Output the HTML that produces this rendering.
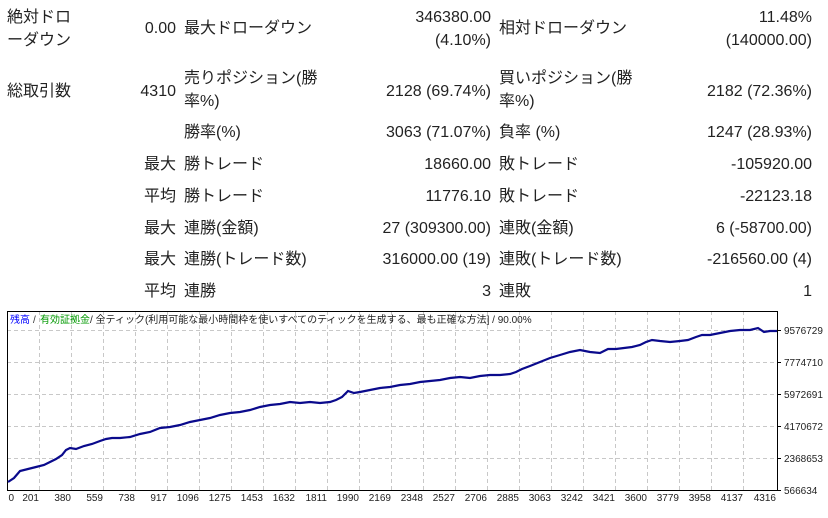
<!DOCTYPE html>
<html><head><meta charset="utf-8"><style>
body{margin:0;width:828px;height:518px;background:#fff;position:relative;overflow:hidden;font-family:"Liberation Sans","Noto Sans CJK JP",sans-serif;font-size:16px;color:#222}
.t{position:absolute;white-space:nowrap;line-height:23px}
.r{text-align:right}
</style></head><body>
<div class="t" style="left:7px;top:6px">絶対ドロ<br>ーダウン</div>
<div class="t r" style="right:652px;top:17px">0.00</div>
<div class="t" style="left:184px;top:17px">最大ドローダウン</div>
<div class="t r" style="right:337px;top:6px">346380.00<br>(4.10%)</div>
<div class="t" style="left:499px;top:17px">相対ドローダウン</div>
<div class="t r" style="right:16px;top:6px">11.48%<br>(140000.00)</div>

<div class="t" style="left:7px;top:80px">総取引数</div>
<div class="t r" style="right:652px;top:80px">4310</div>
<div class="t" style="left:184px;top:67px">売りポジション(勝<br>率%)</div>
<div class="t r" style="right:337px;top:80px">2128 (69.74%)</div>
<div class="t" style="left:499px;top:67px">買いポジション(勝<br>率%)</div>
<div class="t r" style="right:16px;top:80px">2182 (72.36%)</div>

<div class="t" style="left:184px;top:121px">勝率(%)</div>
<div class="t r" style="right:337px;top:121px">3063 (71.07%)</div>
<div class="t" style="left:499px;top:121px">負率 (%)</div>
<div class="t r" style="right:16px;top:121px">1247 (28.93%)</div>

<div class="t r" style="right:652px;top:153px">最大</div>
<div class="t" style="left:184px;top:153px">勝トレード</div>
<div class="t r" style="right:337px;top:153px">18660.00</div>
<div class="t" style="left:499px;top:153px">敗トレード</div>
<div class="t r" style="right:16px;top:153px">-105920.00</div>

<div class="t r" style="right:652px;top:185px">平均</div>
<div class="t" style="left:184px;top:185px">勝トレード</div>
<div class="t r" style="right:337px;top:185px">11776.10</div>
<div class="t" style="left:499px;top:185px">敗トレード</div>
<div class="t r" style="right:16px;top:185px">-22123.18</div>

<div class="t r" style="right:652px;top:217px">最大</div>
<div class="t" style="left:184px;top:217px">連勝(金額)</div>
<div class="t r" style="right:337px;top:217px">27 (309300.00)</div>
<div class="t" style="left:499px;top:217px">連敗(金額)</div>
<div class="t r" style="right:16px;top:217px">6 (-58700.00)</div>

<div class="t r" style="right:652px;top:248px">最大</div>
<div class="t" style="left:184px;top:248px">連勝(トレード数)</div>
<div class="t r" style="right:337px;top:248px">316000.00 (19)</div>
<div class="t" style="left:499px;top:248px">連敗(トレード数)</div>
<div class="t r" style="right:16px;top:248px">-216560.00 (4)</div>

<div class="t r" style="right:652px;top:280px">平均</div>
<div class="t" style="left:184px;top:280px">連勝</div>
<div class="t r" style="right:337px;top:280px">3</div>
<div class="t" style="left:499px;top:280px">連敗</div>
<div class="t r" style="right:16px;top:280px">1</div>

<svg style="position:absolute;left:0;top:0" width="828" height="518" font-family="Liberation Sans, Noto Sans CJK JP, sans-serif">
<g stroke="#c8c8c8" stroke-dasharray="4,3" stroke-width="1">
<line x1="7" x2="777" y1="330.5" y2="330.5"/><line x1="7" x2="777" y1="362.5" y2="362.5"/><line x1="7" x2="777" y1="394.5" y2="394.5"/><line x1="7" x2="777" y1="426.5" y2="426.5"/><line x1="7" x2="777" y1="458.5" y2="458.5"/>
<line x1="39.5" x2="39.5" y1="311" y2="490"/><line x1="71.5" x2="71.5" y1="311" y2="490"/><line x1="103.5" x2="103.5" y1="311" y2="490"/><line x1="135.5" x2="135.5" y1="311" y2="490"/><line x1="167.5" x2="167.5" y1="311" y2="490"/><line x1="199.5" x2="199.5" y1="311" y2="490"/><line x1="231.5" x2="231.5" y1="311" y2="490"/><line x1="263.5" x2="263.5" y1="311" y2="490"/><line x1="295.5" x2="295.5" y1="311" y2="490"/><line x1="327.5" x2="327.5" y1="311" y2="490"/><line x1="359.5" x2="359.5" y1="311" y2="490"/><line x1="391.5" x2="391.5" y1="311" y2="490"/><line x1="423.5" x2="423.5" y1="311" y2="490"/><line x1="455.5" x2="455.5" y1="311" y2="490"/><line x1="487.5" x2="487.5" y1="311" y2="490"/><line x1="519.5" x2="519.5" y1="311" y2="490"/><line x1="551.5" x2="551.5" y1="311" y2="490"/><line x1="583.5" x2="583.5" y1="311" y2="490"/><line x1="615.5" x2="615.5" y1="311" y2="490"/><line x1="647.5" x2="647.5" y1="311" y2="490"/><line x1="679.5" x2="679.5" y1="311" y2="490"/><line x1="711.5" x2="711.5" y1="311" y2="490"/><line x1="743.5" x2="743.5" y1="311" y2="490"/>
</g>
<rect x="7.5" y="311.5" width="770" height="179" fill="none" stroke="#000" stroke-width="1"/>
<g stroke="#000"><line x1="778" x2="781" y1="330.5" y2="330.5"/><line x1="778" x2="781" y1="362.5" y2="362.5"/><line x1="778" x2="781" y1="394.5" y2="394.5"/><line x1="778" x2="781" y1="426.5" y2="426.5"/><line x1="778" x2="781" y1="458.5" y2="458.5"/><line x1="778" x2="781" y1="490.5" y2="490.5"/></g>
<polyline fill="none" stroke="#0a0a8c" stroke-width="2.2" points="8,482 14,478 20,471 28,469 36,467 44,465 50,462 56,459 62,455 66,450 70,448 76,449 84,446 92,444 100,441 106,439 112,438 120,438 130,437 140,434 150,432 160,428 170,427 180,425 190,422 200,420 210,418 220,415 230,413 240,412 250,410 260,407 270,405 280,404 290,402 300,403 310,402 320,403 330,402 336,400 342,397 348,391 354,393 360,392 370,390 380,388 390,387 400,385 410,384 420,382 430,381 440,380 450,378 460,377 470,378 480,376 490,375 500,375 510,374 516,372 522,369 530,366 540,362 550,358 560,355 570,352 580,350 590,352 600,353 608,349 616,349 624,348 632,347 640,345 646,342 652,340 660,341 670,342 680,341 688,340 696,337 702,335 710,335 720,333 730,331 740,330 750,330 758,328 764,332 770,331 777,331"/>
<text x="10" y="323" font-size="10" fill="#00f">残高</text>
<text x="33" y="323" font-size="10" fill="#333">/</text>
<text x="40" y="323" font-size="10" fill="#090">有効証拠金</text>
<text x="90" y="323" font-size="10" fill="#222">/ 全ティック(利用可能な最小時間枠を使いすべてのティックを生成する、最も正確な方法] / 90.00%</text>
<g font-size="10" fill="#222">
<text x="784" y="334">9576729</text><text x="784" y="366">7774710</text><text x="784" y="398">5972691</text><text x="784" y="430">4170672</text><text x="784" y="462">2368653</text><text x="784" y="494">566634</text>
</g>
<g font-size="10" fill="#222" text-anchor="end">
<text x="14" y="501">0</text><text x="39" y="501">201</text><text x="71" y="501">380</text><text x="103" y="501">559</text><text x="135" y="501">738</text><text x="167" y="501">917</text><text x="199" y="501">1096</text><text x="231" y="501">1275</text><text x="263" y="501">1453</text><text x="295" y="501">1632</text><text x="327" y="501">1811</text><text x="359" y="501">1990</text><text x="391" y="501">2169</text><text x="423" y="501">2348</text><text x="455" y="501">2527</text><text x="487" y="501">2706</text><text x="519" y="501">2885</text><text x="551" y="501">3063</text><text x="583" y="501">3242</text><text x="615" y="501">3421</text><text x="647" y="501">3600</text><text x="679" y="501">3779</text><text x="711" y="501">3958</text><text x="743" y="501">4137</text><text x="776" y="501">4316</text>
</g>
</svg>
</body></html>
